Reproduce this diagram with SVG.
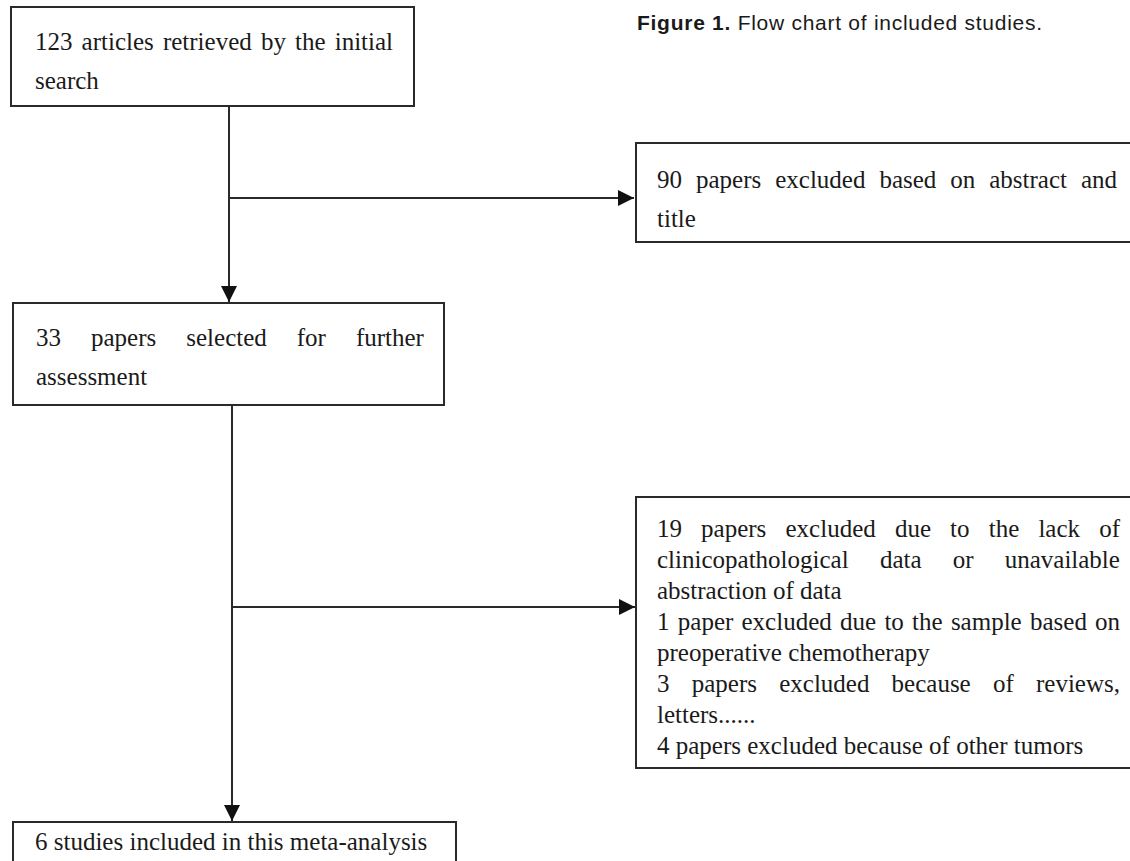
<svg xmlns="http://www.w3.org/2000/svg" width="1130" height="861" viewBox="0 0 1130 861">
<style>
.box{fill:#fff;stroke:#2a2a2a;stroke-width:2}
.t{font-family:"Liberation Serif","Times New Roman",serif;font-size:25px;fill:#1a1a1a}
.c{stroke:#2a2a2a;stroke-width:2;fill:none}
.cap{font-family:"Liberation Sans",Arial,sans-serif;font-size:21px;fill:#1a1a1a}
</style>
<defs>
<marker id="ah" markerUnits="userSpaceOnUse" markerWidth="17" markerHeight="16" refX="16" refY="8" orient="auto">
<path d="M0,0 L16,8 L0,16 Z" fill="#111"/>
</marker>
</defs>
<rect width="1130" height="861" fill="#fff"/>
<text class="cap" x="637" y="30" textLength="405" lengthAdjust="spacing"><tspan font-weight="bold">Figure 1.</tspan> Flow chart of included studies.</text>
<g id="connectors">
<line class="c" x1="229" y1="106" x2="229" y2="302" marker-end="url(#ah)"/>
<line class="c" x1="229" y1="198" x2="634" y2="198" marker-end="url(#ah)"/>
<line class="c" x1="232" y1="405" x2="232" y2="821" marker-end="url(#ah)"/>
<line class="c" x1="232" y1="607" x2="635" y2="607" marker-end="url(#ah)"/>
</g>
<g id="n1">
<rect class="box" x="11" y="7" width="403" height="99"/>
<text class="t" y="50"><tspan x="35">123</tspan><tspan x="81.6">articles</tspan><tspan x="162.9">retrieved</tspan><tspan x="260.9">by</tspan><tspan x="295">the</tspan><tspan x="334.7">initial</tspan></text>
<text class="t" x="35" y="89">search</text>
</g>
<g id="n2">
<rect class="box" x="636" y="143" width="500" height="99"/>
<text class="t" y="188"><tspan x="657">90</tspan><tspan x="696">papers</tspan><tspan x="775.2">excluded</tspan><tspan x="879.4">based</tspan><tspan x="950.2">on</tspan><tspan x="989.2">abstract</tspan><tspan x="1080.9">and</tspan></text>
<text class="t" x="657" y="227">title</text>
</g>
<g id="n3">
<rect class="box" x="13" y="303" width="431" height="102"/>
<text class="t" y="346"><tspan x="36">33</tspan><tspan x="91">papers</tspan><tspan x="186.3">selected</tspan><tspan x="296.8">for</tspan><tspan x="355.9">further</tspan></text>
<text class="t" x="36" y="385">assessment</text>
</g>
<g id="n4">
<rect class="box" x="636" y="497" width="500" height="271"/>
<text class="t" y="537"><tspan x="657">19</tspan><tspan x="701.1">papers</tspan><tspan x="785.5">excluded</tspan><tspan x="894.9">due</tspan><tspan x="950.1">to</tspan><tspan x="988.7">the</tspan><tspan x="1038.4">lack</tspan><tspan x="1099.2">of</tspan></text>
<text class="t" y="568"><tspan x="657">clinicopathological</tspan><tspan x="879.9">data</tspan><tspan x="952.7">or</tspan><tspan x="1004.7">unavailable</tspan></text>
<text class="t" x="657" y="599">abstraction of data</text>
<text class="t" y="630"><tspan x="657">1</tspan><tspan x="677.8">paper</tspan><tspan x="741.5">excluded</tspan><tspan x="840">due</tspan><tspan x="884.4">to</tspan><tspan x="912.1">the</tspan><tspan x="950.9">sample</tspan><tspan x="1030">based</tspan><tspan x="1095.1">on</tspan></text>
<text class="t" x="657" y="661">preoperative chemotherapy</text>
<text class="t" y="692"><tspan x="657">3</tspan><tspan x="691.7">papers</tspan><tspan x="779.2">excluded</tspan><tspan x="891.6">because</tspan><tspan x="993">of</tspan><tspan x="1036">reviews,</tspan></text>
<text class="t" x="657" y="723">letters......</text>
<text class="t" x="657" y="754">4 papers excluded because of other tumors</text>
</g>
<g id="n5">
<rect class="box" x="13" y="822" width="443" height="60"/>
<text class="t" x="35" y="850">6 studies included in this meta-analysis</text>
</g>
</svg>
